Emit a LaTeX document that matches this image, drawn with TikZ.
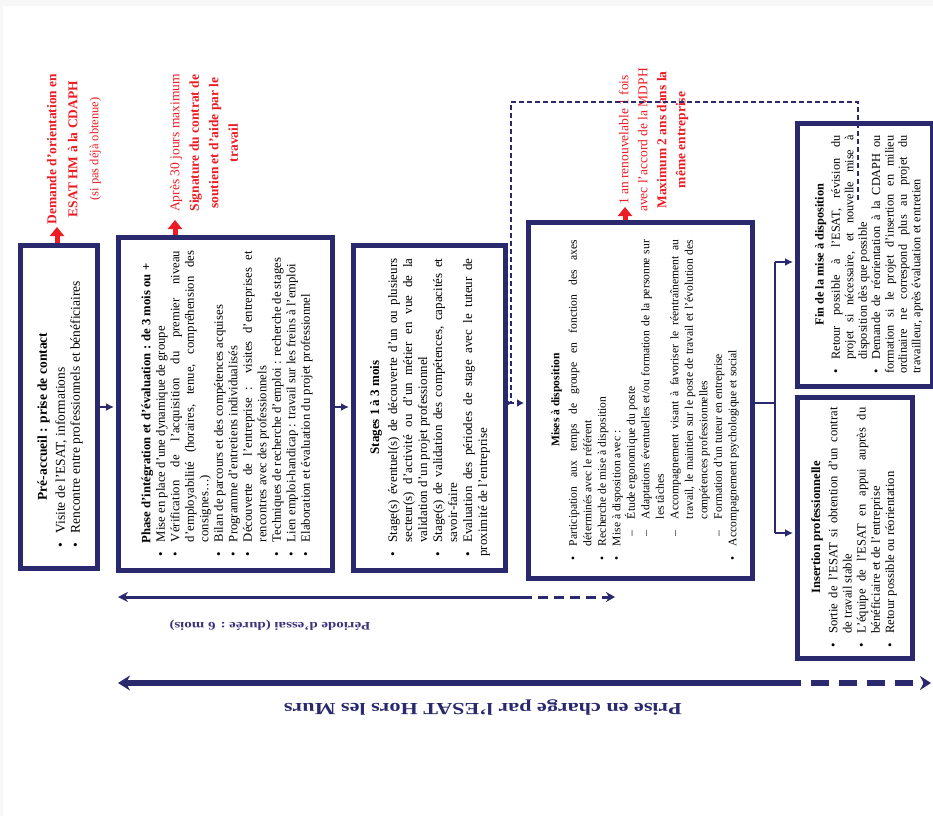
\documentclass[tikz,border=0pt]{standalone}
\usepackage{fontspec}
\setmainfont{Liberation Serif}
\usepackage{graphicx}
\usetikzlibrary{arrows.meta,calc}
\definecolor{navy}{RGB}{42,41,110}
\definecolor{redm}{RGB}{237,28,36}
\definecolor{purp}{RGB}{62,50,122}
\newcommand{\itm}[1]{\par\noindent\hangindent=14pt\hangafter=1\makebox[14pt][l]{\textbullet}#1}
\newcommand{\sitm}[1]{\par\noindent\hangindent=41pt\hangafter=1\hspace*{24pt}\makebox[17pt][l]{–}#1}
\newcommand{\ttl}[2][3pt]{{\centering\bfseries #2\par}\vspace{#1}}
\hfuzz=30pt \tolerance=9999 \hbadness=10000
\begin{document}
\begin{tikzpicture}[x=1pt,y=-1pt,
  box/.style={draw=navy,line width=5pt,inner sep=0pt},
  txt/.style={rotate=90,inner sep=0pt,align=justify},
  redtxt/.style={rotate=90,inner sep=0pt,align=center,text=redm},
  conn/.style={draw=navy,line width=2.5pt,-{Latex[length=8pt,width=8pt]},shorten >=1.5pt},
  conntwo/.style={draw=navy,line width=2pt,-{Latex[length=8pt,width=8pt]},shorten >=1.5pt},
  thinline/.style={draw=navy,line width=1.3pt},
  dashline/.style={draw=navy,line width=1.5pt,dash pattern=on 5pt off 3pt,-{Latex[length=7pt,width=8pt]},shorten >=1.5pt},
  redarr/.style={draw=redm,line width=5pt,-{Triangle[length=9pt,width=14pt]}},
]
\fill[gray!6] (0,0) rectangle (933,816);
\fill[white] (2.5,6) rectangle (933,816);
\useasboundingbox (0,0) rectangle (933,816);

% boxes
\node[box,minimum width=77pt,minimum height=323pt] (b1) at (58.5,406.5) {};
\node[box,minimum width=214pt,minimum height=333pt] (b2) at (225,403.5) {};
\node[box,minimum width=152pt,minimum height=325pt] (b3) at (429,407.5) {};
\node[box,minimum width=224pt,minimum height=356pt] (b4) at (640,400) {};
\node[box,minimum width=135pt,minimum height=263pt] (b5) at (864.5,254.5) {};
\node[box,minimum width=115pt,minimum height=261pt] (b6) at (854.5,527.5) {};

% box texts
\node[txt,text width=282pt,font=\fontsize{13.5}{15}\selectfont] (t1) at (60,406.5)
 {\ttl{Pré-accueil : prise de contact\hspace*{20pt}}\itm{Visite de l'ESAT, informations}\itm{Rencontre entre professionnels et bénéficiaires}};

\node[txt,text width=305pt,font=\fontsize{12.7}{14.5}\selectfont] (t2) at (227,403.5)
 {\ttl[0pt]{Phase d'intégration et d'évaluation : de 3 mois ou +}%
  \itm{Mise en place d'une dynamique de groupe}%
  \itm{Vérification de l'acquisition du premier niveau \linebreak d'employabilité (horaires, tenue, compréhension des \linebreak consignes…)}%
  \itm{Bilan de parcours et des compétences acquises}%
  \itm{Programme d'entretiens individualisés}%
  \itm{Découverte de l'entreprise : visites d'entreprises et \linebreak rencontres avec des professionnels}%
  \itm{Techniques de recherche d'emploi : recherche de stages}%
  \itm{Lien emploi-handicap : travail sur les freins à l'emploi}%
  \itm{Elaboration et évaluation du projet professionnel}};

\node[txt,text width=298pt,font=\fontsize{13}{15}\selectfont] (t3) at (430,407.5)
 {\ttl{Stages 1 à 3 mois}%
  \itm{Stage(s) éventuel(s) de découverte d'un ou plusieurs \linebreak secteur(s) d'activité ou d'un métier en vue de la \linebreak validation d'un projet professionnel}%
  \itm{Stage(s) de validation des compétences, capacités et \linebreak savoir-faire}%
  \itm{Evaluation des périodes de stage avec le tuteur de \linebreak proximité de l'entreprise}};

\node[txt,text width=320pt,font=\fontsize{11.6}{14.5}\selectfont] (t4) at (645,400)
 {\ttl{Mises à disposition}%
  \itm{Participation aux temps de groupe en fonction des axes \linebreak déterminés avec le référent}%
  \itm{Recherche de mise à disposition}%
  \itm{Mise à disposition avec~:}%
  \sitm{Étude ergonomique du poste}%
  \sitm{Adaptations éventuelles et/ou formation de la personne sur \linebreak les tâches}%
  \sitm{Accompagnement visant à favoriser le réentraînement au \linebreak travail, le maintien sur le poste de travail et l'évolution des \linebreak compétences professionnelles}%
  \sitm{Formation d'un tuteur en entreprise}%
  \itm{Accompagnement psychologique et social}};

\node[txt,text width=238pt,font=\fontsize{12.3}{13.4}\selectfont] (t5) at (869,254.5)
 {\ttl{Fin de la mise à disposition}%
  \itm{Retour possible à l'ESAT, révision du \linebreak projet si nécessaire, et nouvelle mise à \linebreak disposition dès que possible}%
  \itm{Demande de réorientation à la CDAPH ou \linebreak formation si le projet d'insertion en milieu \linebreak ordinaire ne correspond plus au projet du \linebreak travailleur, après évaluation et entretien}};

\node[txt,text width=240pt,font=\fontsize{12.6}{14.2}\selectfont] (t6) at (854,527.5)
 {\ttl{Insertion professionnelle}%
  \itm{Sortie de l'ESAT si obtention d'un contrat \linebreak de travail stable}%
  \itm{L'équipe de l'ESAT en appui auprès du \linebreak bénéficiaire et de l'entreprise}%
  \itm{Retour possible ou réorientation}};

% red annotations
\node[redtxt,font=\fontsize{13.5}{21}\selectfont] (r1) at (74,149)
 {\textbf{Demande d'orientation en}\\\textbf{ESAT HM à la CDAPH}\\{\fontsize{12.5}{21}\selectfont (si pas déjà obtenue)}};
\node[redtxt,font=\fontsize{13.5}{19.5}\selectfont] (r2) at (204,143)
 {Après 30 jours maximum\\\textbf{Signature du contrat de}\\\textbf{soutien et d'aide par le}\\\textbf{travail}};
\node[redtxt,font=\fontsize{13.5}{19}\selectfont] (r4) at (653.5,140)
 {1 an renouvelable 1 fois\\avec l'accord de la MDPH\\\textbf{Maximum 2 ans dans la}\\\textbf{même entreprise}};

\coordinate (ra1) at (57,227);
\coordinate (ra2) at (175,220);
\coordinate (ra4) at (625,207);
\draw[redarr] (b1.north -| ra1) -- (ra1);
\draw[redarr] (b2.north -| ra2) -- (ra2);
\draw[redarr] (b4.north -| ra4) -- (ra4);

% connectors
\coordinate (row1) at (0,407);
\coordinate (row2) at (0,403);
\draw[conn] (b1.east |- row1) -- (b2.west |- row1);
\draw[conn] (b2.east |- row1) -- (b3.west |- row1);
\coordinate (dj) at (513,403);
\draw[conn,shorten >=0pt] (b3.east |- row2) -- (dj);
\coordinate (dl0) at (858,200);
\coordinate (dl1) at (858,102);
\coordinate (dl2) at (511,102);
\draw[dashline] (dl0) -- (dl1) -- (dl2) -- (dj -| dl2) -- (b4.west |- row2);

\coordinate (sp) at (775,403);
\coordinate (s5) at (775,262);
\coordinate (s6) at (775,533);
\draw[thinline] (b4.east |- row2) -- (sp);
\draw[thinline] (s5) -- (s6);
\draw[conntwo] (s5) -- (b5.west |- s5);
\draw[conntwo] (s6) -- (b6.west |- s6);

% bottom arrows
\coordinate (pA) at (118,597);
\coordinate (pB) at (522,597);
\coordinate (pC) at (615,597);
\draw[navy,line width=3pt,{Stealth[length=10pt,width=10pt]}-] (pA) -- (pB);
\draw[navy,line width=3pt,dash pattern=on 10pt off 6pt,-{Stealth[length=9pt,width=10pt]}] (pB) -- (pC);
\node[rotate=180,text=purp,inner sep=0pt] (lp) at (270,625)
 {\scalebox{1.3}[1]{\fontsize{11.5}{13}\selectfont\bfseries Période d'essai (durée : 6 mois)}};

\coordinate (qA) at (118,683);
\coordinate (qB) at (783,683);
\coordinate (qC) at (931,683);
\draw[navy,line width=5.5pt,{Stealth[length=12pt,width=15pt]}-] (qA) -- (qB);
\draw[navy,line width=5.5pt,dash pattern=on 18pt off 10pt,-{Stealth[length=11pt,width=14pt]}] (qB) -- (qC);
\node[rotate=180,text=navy,inner sep=0pt] (lq) at (483,708)
 {\scalebox{1.3}[1]{\fontsize{17}{20}\selectfont\bfseries Prise en charge par l'ESAT Hors les Murs}};
\end{tikzpicture}
\end{document}
